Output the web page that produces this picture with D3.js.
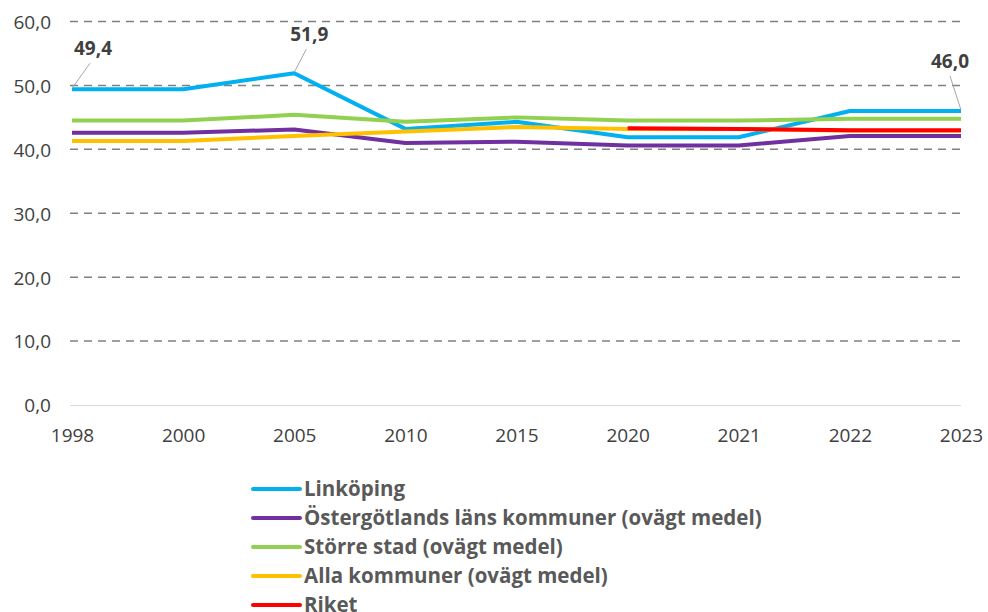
<!DOCTYPE html>
<html>
<head>
<meta charset="utf-8">
<script src="https://cdn.jsdelivr.net/npm/d3@7"></script>
<style>
  body { margin: 0; background: #fff; }
  svg text { font-family: "Open Sans", sans-serif; fill: #404040; }
</style>
</head>
<body>
<script>
// data
const years = ["1998", "2000", "2005", "2010", "2015", "2020", "2021", "2022", "2023"];
const linkoping = [49.4, 49.4, 51.9, 43.2, 44.3, 41.9, 41.9, 46.0, 46.0];
const ostergotland = [42.6, 42.6, 43.1, 41.0, 41.2, 40.6, 40.6, 42.1, 42.1];
const storreStad = [44.5, 44.5, 45.4, 44.3, 45.0, 44.5, 44.5, 44.8, 44.8];
const allaKommuner = [41.3, 41.3, 42.1, 42.8, 43.5, 43.2, 43.2, 42.9, 42.9];
const riket = [null, null, null, null, null, 43.3, 43.2, 43.0, 43.0];
const yTicks = [0, 10, 20, 30, 40, 50, 60];
const labelled = [{ i: 0, dx: 18, dy: -28 }, { i: 2, dx: 12, dy: -26 }, { i: 8, dx: -11, dy: -37 }];

const seriesList = [
    { name: "Linköping", values: linkoping, color: "#00B0F0" },
    { name: "Östergötlands läns kommuner (ovägt medel)", values: ostergotland, color: "#7030A0" },
    { name: "Större stad (ovägt medel)", values: storreStad, color: "#92D050" },
    { name: "Alla kommuner (ovägt medel)", values: allaKommuner, color: "#FFC000" },
    { name: "Riket", values: riket, color: "#FF0000" }
];

const width = 988, height = 612;
const fmt = v => v.toFixed(1).replace(".", ",");

let svg = d3.select("body").append("svg")
    .attr("width", width)
    .attr("height", height);

//scales
let xScale = d3.scalePoint().domain(years).range([72, 961]);
let yScale = d3.scaleLinear().domain([0, 60]).range([405, 21.5]);

//grid
svg.append("g").selectAll("line")
    .data(yTicks.filter(d => d > 0))
    .enter().append("line")
    .attr("x1", 70).attr("x2", 961)
    .attr("y1", d => yScale(d)).attr("y2", d => yScale(d))
    .attr("stroke", "#808080")
    .attr("stroke-width", 1.5)
    .attr("stroke-dasharray", "8,6");

//y axis
let yAxis = d3.axisLeft(yScale).tickValues(yTicks).tickFormat(fmt).tickSize(0).tickPadding(0);
let gy = svg.append("g").attr("transform", "translate(51,0)").call(yAxis);
gy.select(".domain").remove();
gy.selectAll("text").style("font-size", "19px").attr("dy", "0.36em");

//x axis
let xAxis = d3.axisBottom(xScale).tickSize(0).tickPadding(0);
let gx = svg.append("g").attr("transform", "translate(0,405)").call(xAxis);
gx.select(".domain").attr("d", "M70,0.5H961").attr("stroke", "#d9d9d9").attr("stroke-width", 1.2);
gx.selectAll("text").style("font-size", "19px").attr("y", 30).attr("dy", "0.36em");

//lines
let line = d3.line()
    .defined(d => d != null)
    .x((d, i) => xScale(years[i]))
    .y(d => yScale(d));

svg.append("g").selectAll("path")
    .data(seriesList)
    .enter().append("path")
    .attr("d", d => line(d.values))
    .attr("fill", "none")
    .attr("stroke", d => d.color)
    .attr("stroke-width", 4)
    .attr("stroke-linejoin", "round");

//data labels
let lab = svg.append("g").selectAll("g")
    .data(labelled)
    .enter().append("g");
lab.append("line")
    .attr("x1", d => xScale(years[d.i]))
    .attr("y1", d => yScale(linkoping[d.i]) - 1)
    .attr("x2", d => xScale(years[d.i]) + d.dx)
    .attr("y2", d => yScale(linkoping[d.i]) + d.dy + 2)
    .attr("stroke", "#a6a6a6")
    .attr("stroke-width", 1);
lab.append("text")
    .attr("x", d => xScale(years[d.i]) + d.dx + (d.dx > 0 ? 3 : 0))
    .attr("y", d => yScale(linkoping[d.i]) + d.dy - 6)
    .attr("text-anchor", "middle")
    .style("font-size", "19px")
    .style("font-weight", "bold")
    .text(d => fmt(linkoping[d.i]));

//legend
let legend = svg.append("g").selectAll("g")
    .data(seriesList)
    .enter().append("g")
    .attr("transform", (d, i) => `translate(253, ${489 + i * 29})`);
legend.append("line")
    .attr("x1", 0).attr("x2", 47)
    .attr("stroke", d => d.color)
    .attr("stroke-width", 4)
    .attr("stroke-linecap", "round");
legend.append("text")
    .attr("x", 51)
    .attr("dy", "0.36em")
    .style("font-size", "20.5px")
    .style("font-weight", "bold")
    .style("fill", "#595959")
    .text(d => d.name);
</script>
</body>
</html>
